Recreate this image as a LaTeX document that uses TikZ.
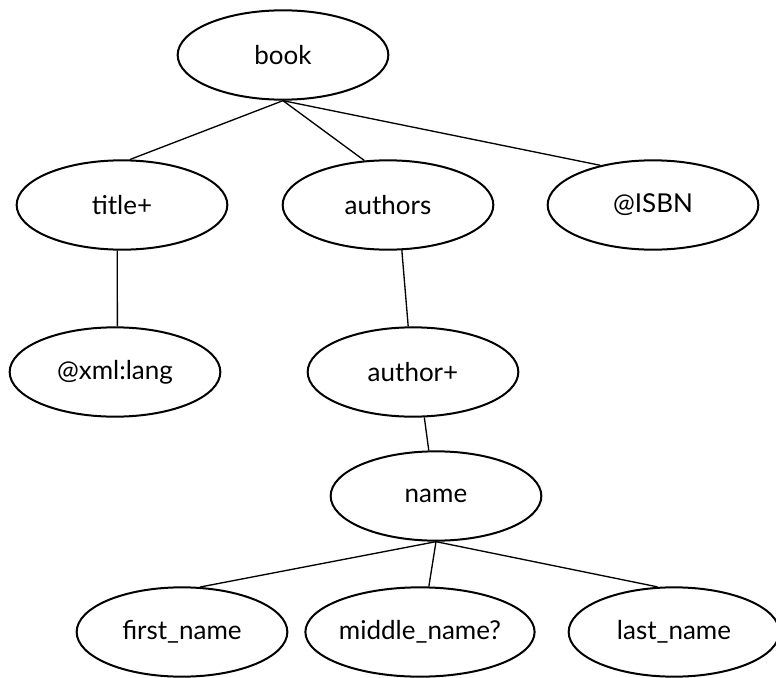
\documentclass[tikz,border=0pt]{standalone}
\usepackage{fontspec}
\setmainfont{Lato}
\usetikzlibrary{shapes.geometric}
\tikzset{elem/.style={ellipse,draw,line width=1.5pt,minimum width=158pt,minimum height=67pt,inner sep=0pt,font=\fontsize{19.5}{22}\selectfont},
link/.style={line width=1pt}}
\begin{document}
\begin{tikzpicture}[x=0.75pt,y=-0.75pt]
\useasboundingbox (0,0) rectangle (776,678);
\node[elem] (book) at (283,55) {book};
\node[elem] (title) at (122,205) {title+};
\node[elem] (authors) at (388,205) {authors};
\node[elem] (isbn) at (653,205) {@ISBN};
\node[elem] (lang) at (115,372) {@xml:lang};
\node[elem] (author) at (413,372) {author+};
\node[elem] (name) at (436,496) {name};
\node[elem] (first) at (182,632) {first\_name};
\node[elem] (middle) at (420,632) {middle\_name?};
\node[elem] (last) at (674,632) {last\_name};
\draw[link] (book.south)--(title.80);
\draw[link] (book.south)--(authors.118);
\draw[link] (book.south)--(isbn.143);
\draw[link] (title.264)--(lang.87);
\draw[link] (authors.287)--(author.96);
\draw[link] (author.284)--(name.99);
\draw[link] (name.south)--(first.68);
\draw[link] (name.south)--(middle.79);
\draw[link] (name.south)--(last.110);
\end{tikzpicture}
\end{document}
